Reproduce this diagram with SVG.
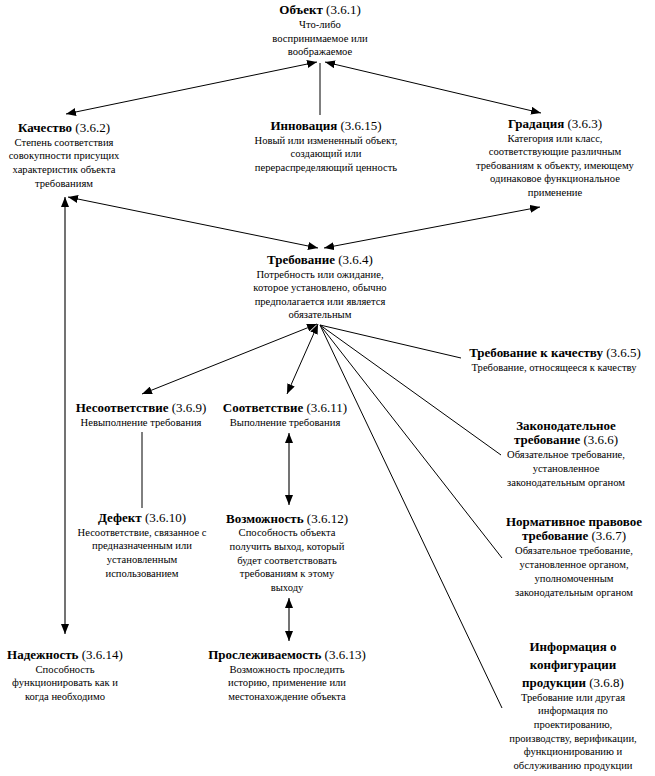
<svg xmlns="http://www.w3.org/2000/svg" width="655" height="776" viewBox="0 0 655 776">
<style>
text{fill:#000;text-anchor:middle;font-family:"Liberation Serif","Times New Roman",serif}
.t{font-size:13px;font-weight:bold}
.n{font-weight:normal}
.d{font-size:10.6px}
.c{stroke:#000;stroke-width:1;fill:none}
.g{stroke:#444;stroke-width:1.5;fill:none}
</style>
<defs>
<marker id="a" viewBox="0 0 10 8" refX="10" refY="4" markerWidth="10" markerHeight="8" markerUnits="userSpaceOnUse" orient="auto-start-reverse">
<path d="M0,0L10,4L0,8z" fill="#000"/>
</marker>
</defs>
<rect width="655" height="776" fill="#fff"/>
<g id="connectors">
<line class="c" x1="317" y1="62" x2="66" y2="114" marker-start="url(#a)" marker-end="url(#a)"/>
<line class="c" x1="325" y1="62" x2="541" y2="113" marker-start="url(#a)" marker-end="url(#a)"/>
<line class="c" x1="320" y1="115" x2="320" y2="63"/>
<line class="c" x1="318" y1="248" x2="68" y2="197" marker-start="url(#a)" marker-end="url(#a)"/>
<line class="c" x1="324" y1="248" x2="540" y2="207" marker-start="url(#a)" marker-end="url(#a)"/>
<line class="g" x1="65" y1="197" x2="65" y2="634" marker-start="url(#a)" marker-end="url(#a)"/>
<line class="c" x1="317" y1="324" x2="142" y2="394" marker-start="url(#a)" marker-end="url(#a)"/>
<line class="c" x1="318" y1="324" x2="287" y2="394" marker-start="url(#a)" marker-end="url(#a)"/>
<line class="c" x1="320" y1="325" x2="461" y2="358"/>
<line class="c" x1="320" y1="325" x2="501" y2="455"/>
<line class="c" x1="320" y1="325" x2="502" y2="558"/>
<line class="c" x1="320" y1="325" x2="502" y2="708"/>
<line class="c" x1="142" y1="432" x2="142" y2="508"/>
<line class="g" x1="289" y1="433" x2="289" y2="505" marker-start="url(#a)" marker-end="url(#a)"/>
<line class="g" x1="289" y1="598" x2="289" y2="641" marker-start="url(#a)" marker-end="url(#a)"/>
</g>
<g id="n361"><text class="t" x="320" y="14">Объект <tspan class="n">(3.6.1)</tspan></text>
<text class="d" x="320" y="28">Что-либо</text><text class="d" x="320" y="42">воспринимаемое или</text><text class="d" x="320" y="55">воображаемое</text></g>
<g id="n362"><text class="t" x="64" y="132">Качество <tspan class="n">(3.6.2)</tspan></text>
<text class="d" x="64" y="146">Степень соответствия</text><text class="d" x="64" y="159">совокупности присущих</text><text class="d" x="64" y="173">характеристик объекта</text><text class="d" x="64" y="187">требованиям</text></g>
<g id="n3615"><text class="t" x="326" y="130">Инновация <tspan class="n">(3.6.15)</tspan></text>
<text class="d" x="326" y="144">Новый или измененный объект,</text><text class="d" x="326" y="157">создающий или</text><text class="d" x="326" y="171">перераспределяющий ценность</text></g>
<g id="n363"><text class="t" x="555" y="128">Градация <tspan class="n">(3.6.3)</tspan></text>
<text class="d" x="555" y="142">Категория или класс,</text><text class="d" x="555" y="155">соответствующие различным</text><text class="d" x="555" y="169">требованиям к объекту, имеющему</text><text class="d" x="555" y="182">одинаковое функциональное</text><text class="d" x="555" y="196">применение</text></g>
<g id="n364"><text class="t" x="320" y="264">Требование <tspan class="n">(3.6.4)</tspan></text>
<text class="d" x="320" y="278">Потребность или ожидание,</text><text class="d" x="320" y="291">которое установлено, обычно</text><text class="d" x="320" y="305">предполагается или является</text><text class="d" x="320" y="318">обязательным</text></g>
<g id="n365"><text class="t" x="555" y="357">Требование к качеству <tspan class="n">(3.6.5)</tspan></text>
<text class="d" x="554" y="371">Требование, относящееся к качеству</text></g>
<g id="n369"><text class="t" x="141" y="412">Несоответствие <tspan class="n">(3.6.9)</tspan></text>
<text class="d" x="141" y="426">Невыполнение требования</text></g>
<g id="n3611"><text class="t" x="285" y="412">Соответствие <tspan class="n">(3.6.11)</tspan></text>
<text class="d" x="285" y="426">Выполнение требования</text></g>
<g id="n366"><text class="t" x="566" y="430">Законодательное</text><text class="t" x="566" y="444">требование <tspan class="n">(3.6.6)</tspan></text>
<text class="d" x="566" y="458">Обязательное требование,</text><text class="d" x="566" y="472">установленное</text><text class="d" x="566" y="486">законодательным органом</text></g>
<g id="n3610"><text class="t" x="142" y="522">Дефект <tspan class="n">(3.6.10)</tspan></text>
<text class="d" x="142" y="536">Несоответствие, связанное с</text><text class="d" x="142" y="549">предназначенным или</text><text class="d" x="142" y="563">установленным</text><text class="d" x="142" y="577">использованием</text></g>
<g id="n3612"><text class="t" x="287" y="523">Возможность <tspan class="n">(3.6.12)</tspan></text>
<text class="d" x="287" y="536">Способность объекта</text><text class="d" x="287" y="550">получить выход, который</text><text class="d" x="287" y="564">будет соответствовать</text><text class="d" x="287" y="577">требованиям к этому</text><text class="d" x="287" y="591">выходу</text></g>
<g id="n367"><text class="t" x="574" y="526">Нормативное правовое</text><text class="t" x="574" y="540">требование <tspan class="n">(3.6.7)</tspan></text>
<text class="d" x="574" y="554">Обязательное требование,</text><text class="d" x="574" y="568">установленное органом,</text><text class="d" x="574" y="582">уполномоченным</text><text class="d" x="574" y="596">законодательным органом</text></g>
<g id="n3614"><text class="t" x="65" y="659">Надежность <tspan class="n">(3.6.14)</tspan></text>
<text class="d" x="65" y="673">Способность</text><text class="d" x="65" y="686">функционировать как и</text><text class="d" x="65" y="700">когда необходимо</text></g>
<g id="n3613"><text class="t" x="287" y="659">Прослеживаемость <tspan class="n">(3.6.13)</tspan></text>
<text class="d" x="287" y="673">Возможность проследить</text><text class="d" x="287" y="686">историю, применение или</text><text class="d" x="287" y="700">местонахождение объекта</text></g>
<g id="n368"><text class="t" x="573" y="651">Информация о</text><text class="t" x="573" y="669">конфигурации</text><text class="t" x="573" y="687">продукции <tspan class="n">(3.6.8)</tspan></text>
<text class="d" x="573" y="701">Требование или другая</text><text class="d" x="573" y="714">информация по</text><text class="d" x="573" y="728">проектированию,</text><text class="d" x="573" y="742">производству, верификации,</text><text class="d" x="573" y="755">функционированию и</text><text class="d" x="573" y="769">обслуживанию продукции</text></g>
</svg>
